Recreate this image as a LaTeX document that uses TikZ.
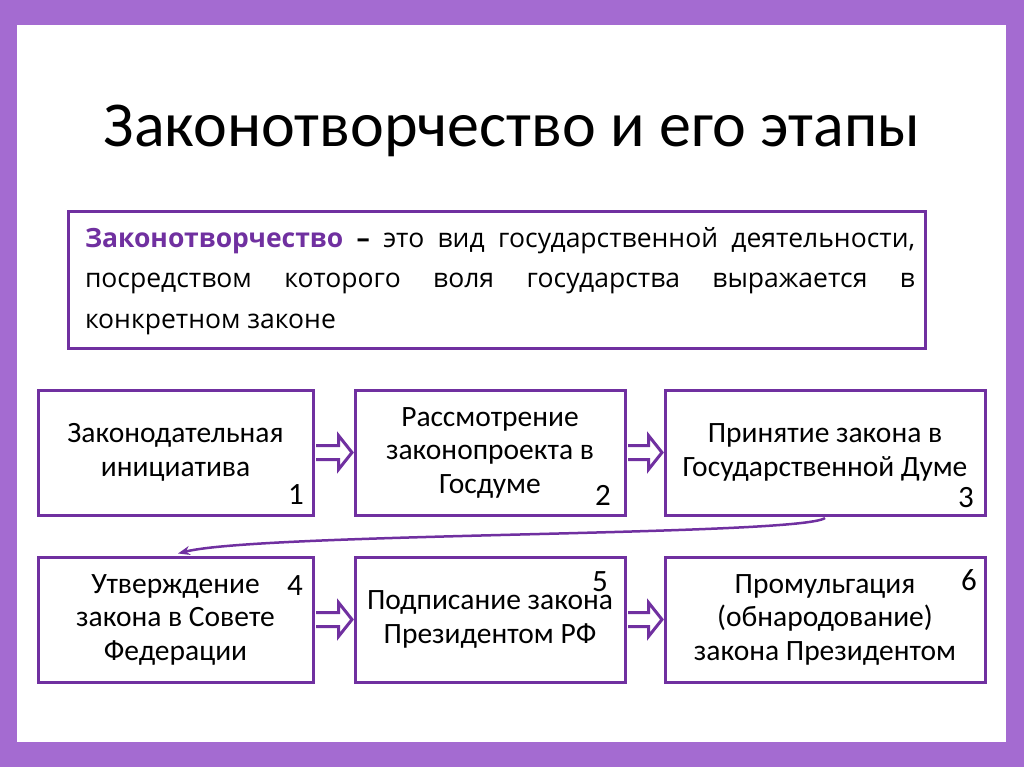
\documentclass[tikz,border=0pt]{standalone}
\usepackage{fontspec}
\setmainfont{Carlito}
\newfontfamily\defn{Open Sans}
\usetikzlibrary{calc,arrows.meta}
\definecolor{frame}{HTML}{A46BD1}
\definecolor{dpurple}{HTML}{7030A0}
\tikzset{
  stagebox/.style={draw=dpurple, line width=3pt, fill=white, inner sep=0pt, align=center,
    font=\fontsize{29.5}{33.5}\selectfont},
  num/.style={font=\fontsize{31}{32}\selectfont, inner sep=0pt, anchor=center},
  hollow/.style={draw=dpurple, line width=3pt, fill=white, line join=miter},
  link/.style={draw=dpurple, line width=2.5pt, -{Stealth[length=12pt,width=9pt]}}
}
\begin{document}
\begin{tikzpicture}[x=1pt,y=-1pt]
\fill[frame] (0,0) rectangle (1024,767);
\fill[white] (17,25) rectangle (1006,742);
\useasboundingbox (0,0) rectangle (1024,767);
\node (title) at (512,131) {\fontsize{64}{66}\selectfont Законотворчество и его этапы};
\node[draw=dpurple, line width=3pt, minimum width=857pt, minimum height=136pt, inner sep=0pt] (def) at (496.5,280) {};
\node[text width=830pt, align=justify, inner sep=0pt, font=\defn\fontsize{26.5}{40.5}\selectfont] (deftext) at (500,281)
 {{\color{dpurple}\bfseries Законотворчество} \textbf{–} это вид государственной деятельности, посредством которого воля государства выражается в конкретном законе\par};
% row 1
\node[stagebox, minimum width=275pt, minimum height=125pt] (b1) at (175.5,452.5) {Законодательная\\инициатива};
\node[stagebox, minimum width=270pt, minimum height=125pt] (b2) at (490,452.5) {Рассмотрение\\законопроекта в\\Госдуме};
\node[stagebox, minimum width=320pt, minimum height=125pt] (b3) at (825,452.5) {Принятие закона в\\Государственной Думе};
% row 2
\node[stagebox, minimum width=275pt, minimum height=125pt] (b4) at (175.5,619.5) {Утверждение\\закона в Совете\\Федерации};
\node[stagebox, minimum width=270pt, minimum height=125pt] (b5) at (490,619.5) {Подписание закона\\Президентом РФ};
\node[stagebox, minimum width=320pt, minimum height=125pt] (b6) at (825,619.5) {Промульгация\\(обнародование)\\закона Президентом};
% numbers
\node[num] (n1) at (296,495) {1};
\node[num] (n2) at (603,495) {2};
\node[num] (n3) at (966,498) {3};
\node[num] (n4) at (295,586) {4};
\node[num] (n5) at (600,582) {5};
\node[num] (n6) at (969,580) {6};
% hollow arrows
\foreach \a/\b in {b1/b2, b2/b3, b4/b5, b5/b6}{
  \draw[hollow] ($(\a.east)+(1.5,-7)$) -- ($(\b.west)+(-15,-7)$) -- ($(\b.west)+(-15,-17)$)
    -- ($(\b.west)+(-1.5,0)$) -- ($(\b.west)+(-15,17)$) -- ($(\b.west)+(-15,7)$) -- ($(\a.east)+(1.5,7)$);
}
% curved connector
\coordinate (s) at ($(b3.south)+(0,1.5)$);
\coordinate (e) at ($(b4.north)+(2.5,-2)$);
\draw[link] (s) .. controls +(-25,18) and +(82,-21) .. (e);
\end{tikzpicture}
\end{document}
